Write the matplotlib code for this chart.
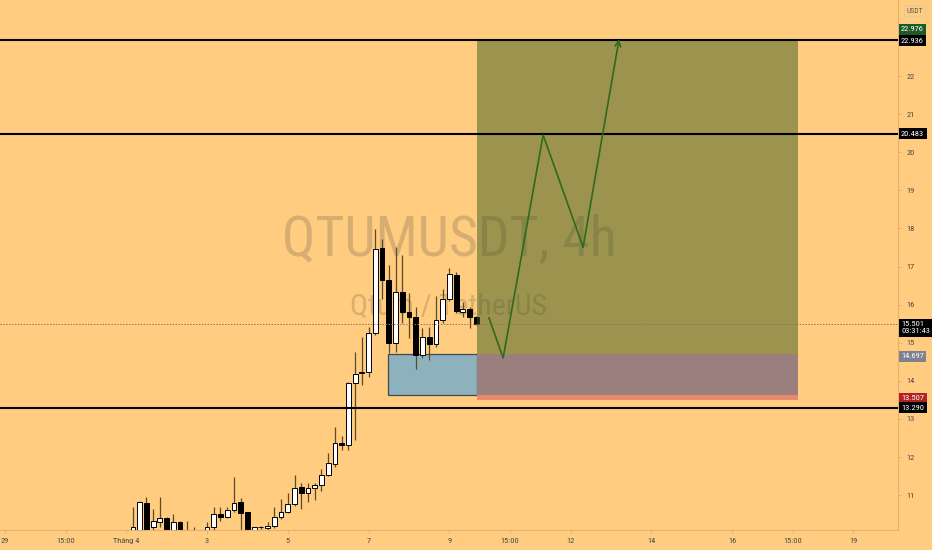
import matplotlib
matplotlib.use('Agg')
import matplotlib.pyplot as plt
from matplotlib import font_manager as fm
from matplotlib.patches import Rectangle
from matplotlib.transforms import blended_transform_factory
import numpy as np

# ---------------- fonts ----------------
_names = {f.name for f in fm.fontManager.ttflist}
FONT = 'DejaVu Sans'
for cand in ['Liberation Sans Narrow', 'Roboto Condensed', 'Open Sans Condensed', 'Liberation Sans']:
    if cand in _names:
        FONT = cand
        break
plt.rcParams['font.family'] = [FONT, 'DejaVu Sans']

# ---------------- data ----------------
# time axis in days since 29 March 00:00; 4h candles starting 1 April 04:00
first_candle_day = 3 + 4 / 24
candle_step_days = 4 / 24

opens = [9.95, 10.00, 10.79, 10.16, 10.29, 10.40, 10.00, 10.29, 10.05, 9.98,
         9.90, 9.95, 10.16, 10.50, 10.43, 10.61, 10.82, 10.56, 9.95, 10.17,
         10.14, 10.19, 10.43, 10.56, 10.77, 11.21, 11.06, 11.19, 11.26, 11.53,
         11.81, 12.37, 12.31, 13.94, 14.23, 14.23, 15.25, 17.49, 16.65, 14.99,
         16.33, 15.81, 15.67, 14.68, 15.15, 14.97, 15.60, 16.15, 16.78, 15.81,
         15.88, 15.67]
highs = [10.69, 10.85, 10.95, 10.64, 10.95, 10.43, 10.50, 10.32, 10.32, 10.16,
         10.05, 10.29, 10.69, 10.69, 10.69, 11.47, 10.92, 10.56, 10.16, 10.20,
         10.29, 10.69, 10.90, 11.06, 11.53, 11.32, 11.32, 11.32, 11.69, 12.10,
         12.79, 12.55, 13.98, 14.76, 15.15, 15.41, 17.98, 17.72, 17.04, 17.51,
         17.30, 16.30, 15.94, 15.39, 15.41, 16.23, 16.40, 16.96, 16.85, 16.07,
         15.94, 15.70]
lows = [9.90, 9.95, 9.95, 10.06, 10.16, 9.95, 9.95, 9.95, 9.90, 9.92,
        9.85, 9.90, 10.06, 10.32, 10.40, 10.56, 10.02, 9.90, 9.90, 10.10,
        10.08, 10.14, 10.37, 10.53, 10.71, 10.64, 10.82, 10.87, 11.11, 11.50,
        11.74, 12.18, 12.18, 12.45, 13.89, 14.10, 15.20, 16.15, 14.73, 14.76,
        15.52, 15.12, 14.32, 14.60, 14.55, 14.89, 15.52, 16.10, 15.78, 15.67,
        15.39, 15.46]
closes = [10.16, 10.82, 10.00, 10.32, 10.40, 10.00, 10.29, 10.00, 9.95, 10.03,
          10.00, 10.16, 10.50, 10.43, 10.61, 10.79, 10.53, 9.95, 10.16, 10.15,
          10.19, 10.43, 10.56, 10.77, 11.19, 11.06, 11.19, 11.26, 11.53, 11.84,
          12.37, 12.31, 13.94, 14.18, 14.20, 15.25, 17.46, 16.65, 14.99, 16.33,
          15.81, 15.67, 14.68, 15.15, 14.97, 15.60, 16.15, 16.80, 15.83, 15.88,
          15.67, 15.501]

levels = [22.936, 20.483, 13.290]
entry_price = 14.697
target_price = 22.976
stop_price = 13.507
zone_bottom_blue = 13.63
current_price = 15.501
countdown = '03:31:43'

zone_start_day = 11.68
zone_end_day = 19.63
box_start_day = 9.48

path_days = [11.98, 12.33, 13.32, 14.31, 15.20]
path_prices = [15.65, 14.60, 20.45, 17.51, 22.97]

xtick_days = [0, 1.5, 3, 5, 7, 9, 11, 12.5, 14, 16, 18, 19.5, 21]
xtick_labels = ['29', '15:00', 'Tháng 4', '3', '5', '7', '9', '15:00', '12', '14', '16', '15:00', '19']
ytick_values = list(range(11, 23))

price_labels = [  # (text, y position, background)
    ('22.976', 23.23, '#1E5A28'),
    ('22.936', 22.92, '#000000'),
    ('20.483', 20.483, '#000000'),
    ('15.501\n' + countdown, 15.39, '#000000'),
    ('14.697', 14.64, '#7E8190'),
    ('13.507', 13.54, '#B22222'),
    ('13.290', 13.290, '#000000'),
]

# ---------------- style ----------------
BG = '#FFCC80'
WM = '#D6AE72'
AXC = '#E3B36E'

fig = plt.figure(figsize=(9.32, 5.5), dpi=100, facecolor=BG)
ax = fig.add_axes([0, 20 / 550, 898 / 932, 530 / 550])
ax.set_facecolor(BG)
ax.set_xlim(-5 / 40.4, 893 / 40.4)
ax.set_ylim(10.084, 23.995)

# watermark
wm1 = ax.text(0.5005, 0.519, 'QTUMUSDT, 4h', transform=ax.transAxes, ha='center',
              va='baseline', fontsize=40, color=WM, zorder=0.5)
wm2 = ax.text(0.5, 0.4057, 'Qtum / TetherUS', transform=ax.transAxes, ha='center',
              va='baseline', fontsize=23, color=WM, zorder=0.5)
fig.canvas.draw()
for t, target_w in [(wm1, 335), (wm2, 197)]:
    w = t.get_window_extent().width
    t.set_fontsize(t.get_fontsize() * target_w / w)

# blue box
ax.add_patch(Rectangle((box_start_day, zone_bottom_blue), zone_start_day - box_start_day,
                       entry_price - zone_bottom_blue, facecolor='#8DB2BE',
                       edgecolor='#3E4A4E', linewidth=0.9, zorder=1))

# candles
n = len(opens)
xs = first_candle_day + np.arange(n) * candle_step_days
o = np.array(opens); c = np.array(closes); h = np.array(highs); l = np.array(lows)
ax.vlines(xs, l, h, color='#5A4A28', linewidth=0.9, zorder=2)
up = c >= o
body_bottom = np.minimum(o, c)
body_h = np.maximum(np.abs(c - o), 0.02)
ax.bar(xs[up], body_h[up], bottom=body_bottom[up], width=0.12, color='white',
       edgecolor='black', linewidth=0.7, zorder=2.2)
ax.bar(xs[~up], body_h[~up], bottom=body_bottom[~up], width=0.12, color='black',
       edgecolor='black', linewidth=0.7, zorder=2.2)

# position zones
ax.add_patch(Rectangle((zone_start_day, entry_price), zone_end_day - zone_start_day,
                       target_price - entry_price, facecolor='#3B5C20', alpha=0.5,
                       edgecolor='none', zorder=3))
ax.add_patch(Rectangle((zone_start_day, zone_bottom_blue), zone_end_day - zone_start_day,
                       entry_price - zone_bottom_blue, facecolor='#9B7F7F',
                       edgecolor='none', zorder=3))
ax.add_patch(Rectangle((zone_start_day, stop_price), zone_end_day - zone_start_day,
                       zone_bottom_blue - stop_price, facecolor='#E98A6C',
                       edgecolor='none', zorder=3))

# current price dotted line
ax.axhline(current_price, color='#8C7A5A', linewidth=0.7, linestyle=(0, (1.5, 1.5)), zorder=3.5)

# horizontal levels
for lv in levels:
    ax.axhline(lv, color='black', linewidth=1.5, zorder=4)

# projection path
ax.plot(path_days[:-1], path_prices[:-1], color='#2E6B1E', linewidth=1.2, zorder=5)
ax.annotate('', xy=(path_days[-1], path_prices[-1]), xytext=(path_days[-2], path_prices[-2]),
            arrowprops=dict(arrowstyle='->', color='#2E6B1E', linewidth=1.2,
                            mutation_scale=10, shrinkA=0, shrinkB=0), zorder=5)

# axes styling
for s in ['top', 'left']:
    ax.spines[s].set_visible(False)
for s in ['right', 'bottom']:
    ax.spines[s].set_color(AXC)
    ax.spines[s].set_linewidth(0.8)
ax.yaxis.tick_right()
ax.set_yticks(ytick_values)
ax.set_yticklabels([str(v) for v in ytick_values])
ax.set_xticks(xtick_days)
ax.set_xticklabels(xtick_labels)
ax.tick_params(axis='both', labelsize=6, colors='#4A4A4A', length=3, width=0.6, pad=3)
ax.tick_params(axis='both', color=AXC)

# price labels on axis
tr = blended_transform_factory(ax.transAxes, ax.transData)
for txt, yv, bgc in price_labels:
    ax.text(1.0 + 3 / 898, yv, txt, transform=tr, ha='left', va='center', fontsize=6,
            color='white', linespacing=1.2, clip_on=False, zorder=6,
            bbox=dict(boxstyle='square,pad=0.3', facecolor=bgc, edgecolor='none'))

# currency label
fig.text(915 / 932, 1 - 11 / 550, 'USDT', ha='center', va='center', fontsize=5.5,
         color='#5A5A5A', bbox=dict(boxstyle='round,pad=0.3', facecolor=BG,
                                    edgecolor='#D8C8B0', linewidth=0.6))

fig.savefig('out.png', dpi=100, facecolor=BG)
